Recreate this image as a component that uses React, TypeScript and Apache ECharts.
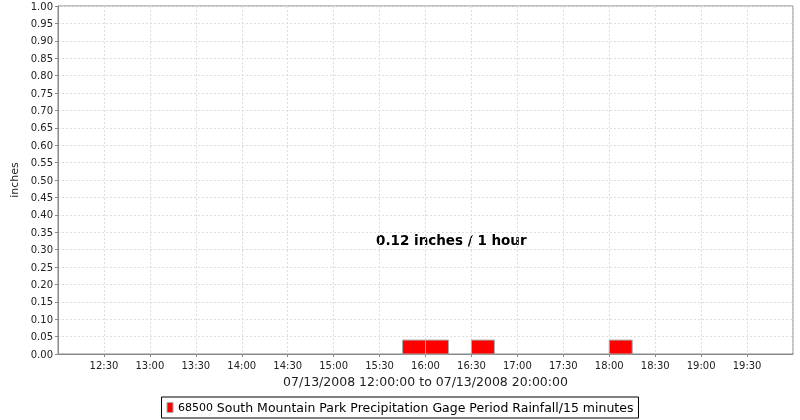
import React, { useEffect, useRef } from "react";
import * as echarts from "echarts";

// Period start times (15-minute periods) and rainfall values (inches)
const periodStarts = ["15:45", "16:00", "16:30", "18:00"];
const rainfall = [0.04, 0.04, 0.04, 0.04];
const periodMinutes = 15;
const seriesName = "68500";
const seriesDesc = "South Mountain Park Precipitation Gage Period Rainfall/15 minutes";
const annotation = "0.12 inches / 1 hour";
const xAxisTitle = "07/13/2008 12:00:00 to 07/13/2008 20:00:00";
const startHour = 12;
const endHour = 20;

const toMin = (s: string) => {
  const [h, m] = s.split(":").map(Number);
  return (h - startHour) * 60 + m;
};
const fmt = (v: number) => {
  const t = startHour * 60 + v;
  const h = Math.floor(t / 60);
  const m = t % 60;
  return `${h}:${m < 10 ? "0" + m : m}`;
};

export default function App() {
  const ref = useRef<HTMLDivElement>(null);
  useEffect(() => {
    if (!ref.current) return;
    const chart = echarts.init(ref.current, undefined, { renderer: "svg" });
    const data = periodStarts.map((s, i) => [toMin(s), toMin(s) + periodMinutes, rainfall[i]]);
    const font = "DejaVu Sans";
    chart.setOption({
      animation: false,
      textStyle: { fontFamily: font },
      grid: {
        left: 58,
        right: 7,
        top: 6,
        bottom: 66,
        show: true,
        borderColor: "#888",
        borderWidth: 1,
        backgroundColor: "#fff",
      },
      xAxis: {
        type: "value",
        min: 0,
        max: (endHour - startHour) * 60,
        interval: 30,
        name: xAxisTitle,
        nameLocation: "middle",
        nameGap: 21,
        nameTextStyle: { fontSize: 12.5, color: "#222", fontFamily: font },
        axisLine: { lineStyle: { color: "#888" } },
        axisTick: { show: true, length: 3, lineStyle: { color: "#888" } },
        axisLabel: {
          fontSize: 10,
          color: "#222",
          margin: 6,
          showMinLabel: false,
          showMaxLabel: false,
          formatter: (v: number) => fmt(v),
        },
        splitLine: { show: true, lineStyle: { color: "#ddd", type: [2, 2] } },
      },
      yAxis: {
        type: "value",
        min: 0,
        max: 1,
        interval: 0.05,
        name: "inches",
        nameLocation: "middle",
        nameGap: 34,
        nameRotate: 90,
        nameTextStyle: { fontSize: 11, color: "#222", fontFamily: font },
        axisLine: { show: true, lineStyle: { color: "#888" } },
        axisTick: { show: true, length: 3, lineStyle: { color: "#888" } },
        axisLabel: {
          fontSize: 10,
          color: "#222",
          margin: 5,
          formatter: (v: number) => v.toFixed(2),
        },
        splitLine: { show: true, lineStyle: { color: "#ddd", type: [2, 2] } },
      },
      legend: {
        show: true,
        bottom: 2,
        left: "center",
        data: [{ name: seriesName, icon: "rect" }],
        itemWidth: 6,
        itemHeight: 10,
        itemGap: 4,
        borderColor: "#000",
        borderWidth: 1,
        padding: [4, 5, 4, 5],
        itemStyle: { color: "#ff0000", borderColor: "#aaa", borderWidth: 1 },
        formatter: (n: string) => `{a|${n}} {b|${seriesDesc}}`,
        textStyle: {
          fontFamily: font,
          rich: {
            a: { fontSize: 11, color: "#000", fontFamily: font },
            b: { fontSize: 12.5, color: "#000", fontFamily: font },
          },
        },
      },
      graphic: [
        {
          type: "text",
          left: 376,
          top: 233,
          style: {
            text: annotation,
            font: `bold 13.5px ${font}`,
            fill: "#000",
          },
        },
      ],
      series: [
        {
          name: seriesName,
          type: "custom",
          itemStyle: { color: "#ff0000" },
          encode: { x: [0, 1], y: 2 },
          data,
          renderItem: (params: any, api: any) => {
            const p0 = api.coord([api.value(0), api.value(2)]);
            const p1 = api.coord([api.value(1), 0]);
            return {
              type: "rect",
              shape: { x: p0[0], y: p0[1], width: p1[0] - p0[0], height: p1[1] - p0[1] },
              style: { fill: "#ff0000", stroke: "#aaa", lineWidth: 1 },
            };
          },
        },
      ],
    });
    return () => chart.dispose();
  }, []);
  return (
    <div
      ref={ref}
      style={{ position: "fixed", left: 0, top: 0, width: 800, height: 420 }}
    />
  );
}
